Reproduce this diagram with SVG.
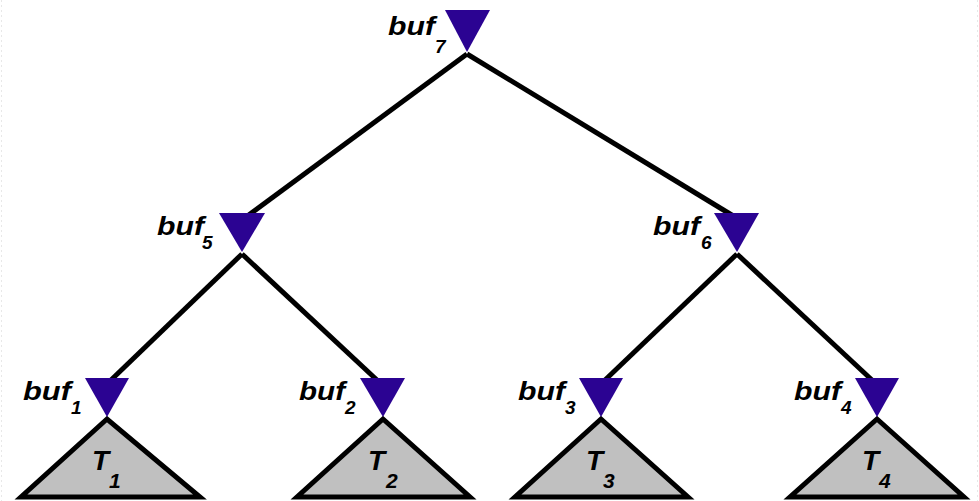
<svg xmlns="http://www.w3.org/2000/svg" width="979" height="501" viewBox="0 0 979 501">
<style>
.buf{fill:#2B0392;stroke:none}
.tree{fill:#C0C0C0;stroke:#000;stroke-width:5;stroke-linejoin:miter}
.edge{stroke:#000;stroke-width:5;fill:none}
.lbl{font-family:"Liberation Sans",Arial,sans-serif;font-weight:bold;font-style:italic;fill:#000}
.b{font-size:25px}
.bs{font-size:19px}
.t{font-size:28px}
.ts{font-size:21px}
.frame{stroke:#e8e8e8;stroke-width:1;stroke-dasharray:2 3}
</style>
<rect width="979" height="501" fill="#fff"/>
<line class="frame" x1="1.5" y1="0" x2="1.5" y2="501"/>
<line class="frame" x1="977.5" y1="0" x2="977.5" y2="501"/>
<g id="connectors">
<line class="edge" x1="467" y1="54" x2="246" y2="217"/>
<line class="edge" x1="467" y1="54" x2="735" y2="217"/>
<line class="edge" x1="242" y1="254" x2="110" y2="381"/>
<line class="edge" x1="242" y1="254" x2="378" y2="381"/>
<line class="edge" x1="737" y1="254" x2="604" y2="381"/>
<line class="edge" x1="737" y1="254" x2="873" y2="381"/>
</g>
<g id="T1"><polygon class="tree" points="107,419 21,497 200,497"/><text class="lbl t" x="92" y="470">T</text><text class="lbl ts" x="109" y="488">1</text></g>
<g id="T2"><polygon class="tree" points="383,419 297,497 470,497"/><text class="lbl t" x="368" y="470">T</text><text class="lbl ts" x="386" y="488">2</text></g>
<g id="T3"><polygon class="tree" points="601,419 515,497 688,497"/><text class="lbl t" x="586" y="470">T</text><text class="lbl ts" x="603" y="488">3</text></g>
<g id="T4"><polygon class="tree" points="877,419 790,497 964,497"/><text class="lbl t" x="862" y="470">T</text><text class="lbl ts" x="879" y="488">4</text></g>
<g id="buf7"><polygon class="buf" points="445,10 490,10 467,52"/><text class="lbl b" x="388" y="35" textLength="47" lengthAdjust="spacingAndGlyphs">buf</text><text class="lbl bs" x="435" y="53">7</text></g>
<g id="buf5"><polygon class="buf" points="219,213 265,213 242,252"/><text class="lbl b" x="157" y="235" textLength="47" lengthAdjust="spacingAndGlyphs">buf</text><text class="lbl bs" x="202" y="249">5</text></g>
<g id="buf6"><polygon class="buf" points="714,213 759,213 737,252"/><text class="lbl b" x="653" y="235" textLength="47" lengthAdjust="spacingAndGlyphs">buf</text><text class="lbl bs" x="701" y="249">6</text></g>
<g id="buf1"><polygon class="buf" points="85,378 129,378 107,417"/><text class="lbl b" x="23" y="400" textLength="48" lengthAdjust="spacingAndGlyphs">buf</text><text class="lbl bs" x="71" y="414">1</text></g>
<g id="buf2"><polygon class="buf" points="360,378 405,378 383,417"/><text class="lbl b" x="299" y="400" textLength="46" lengthAdjust="spacingAndGlyphs">buf</text><text class="lbl bs" x="345" y="414">2</text></g>
<g id="buf3"><polygon class="buf" points="579,378 623,378 601,417"/><text class="lbl b" x="518" y="400" textLength="47" lengthAdjust="spacingAndGlyphs">buf</text><text class="lbl bs" x="565" y="414">3</text></g>
<g id="buf4"><polygon class="buf" points="855,378 899,378 877,417"/><text class="lbl b" x="794" y="400" textLength="47" lengthAdjust="spacingAndGlyphs">buf</text><text class="lbl bs" x="841" y="414">4</text></g>
</svg>
